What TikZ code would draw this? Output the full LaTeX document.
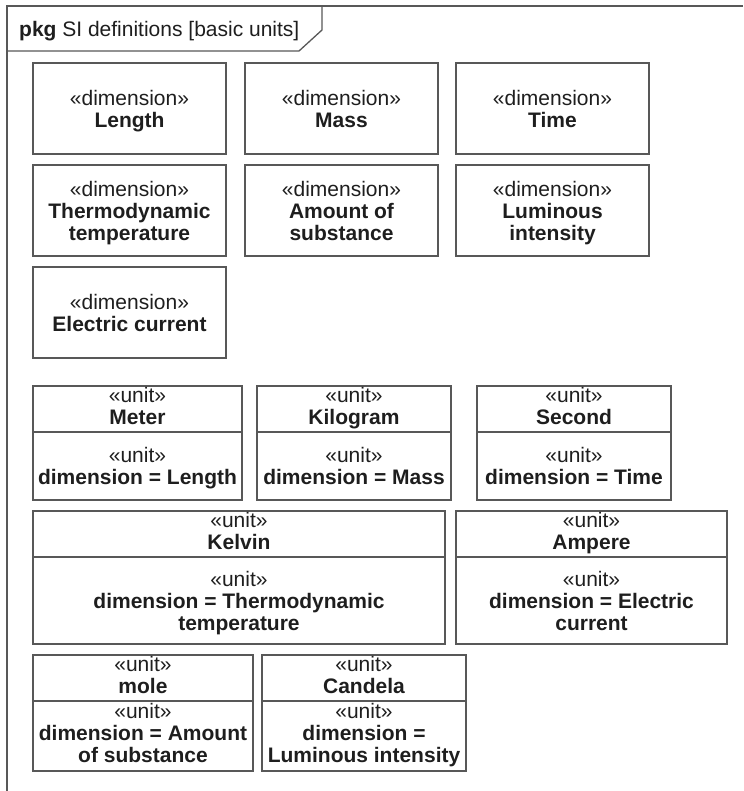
\documentclass[tikz,border=0pt]{standalone}
\usepackage{fontspec}
\setmainfont{Liberation Sans}
\usepackage{tikz}
\usetikzlibrary{positioning}
\definecolor{umlline}{RGB}{88,88,88}
\definecolor{umltext}{RGB}{30,30,30}
\newcommand{\stype}[1]{«#1»}
\newcommand{\bnl}{\\\bfseries}
\newcommand{\lift}{\rule{0pt}{22pt}}
\newcommand{\dimtxt}[1]{\lift\stype{dimension}\bnl #1\strut}
\newcommand{\unitxt}[1]{\stype{unit}\bnl #1\strut}
\newcommand{\unitattr}[1]{\lift\stype{unit}\bnl #1\strut}
\tikzset{
  umlfont/.style={font=\fontsize{21}{22}\selectfont, text=umltext},
  frameln/.style={draw=umlline, line width=1.3pt},
  dimbox/.style={frameln, umlfont, rectangle, inner sep=0pt, outer sep=0pt,
      align=center, anchor=north west, minimum width=193pt, minimum height=91pt},
  headbox/.style={frameln, umlfont, rectangle, inner sep=0pt, outer sep=0pt,
      align=center, anchor=north west, minimum width=#1, minimum height=46pt},
  bodybox/.style={frameln, umlfont, rectangle, inner sep=0pt, outer sep=0pt,
      align=center, minimum width=#1},
}

\begin{document}
\begin{tikzpicture}[x=1pt,y=-1pt]
\useasboundingbox (0,0) rectangle (743,791);
% package frame
\draw[frameln] (7,791) -- (7,6) -- (743,6);
\draw[frameln] (7,51) -- (299,51) -- (322,30) -- (322,6);
\node[umlfont, anchor=base west, inner sep=0pt] (pkgtitle) at (19,37)
  {\textbf{pkg} SI definitions [basic units]};
% dimensions
\node[dimbox] (length)   at (33,63)   {\dimtxt{Length}};
\node[dimbox] (mass)     at (245,63)  {\dimtxt{Mass}};
\node[dimbox] (time)     at (456,63)  {\dimtxt{Time}};
\node[dimbox] (thermo)   at (33,165)  {\dimtxt{Thermodynamic\bnl temperature}};
\node[dimbox] (amount)   at (245,165) {\dimtxt{Amount of\bnl substance}};
\node[dimbox] (luminous) at (456,165) {\dimtxt{Luminous\bnl intensity}};
\node[dimbox] (current)  at (33,267)  {\dimtxt{Electric current}};
% units
\node[headbox=209pt] (meter) at (33,386) {\unitxt{Meter}};
\node[bodybox=209pt, minimum height=68pt, below=0pt of meter] (meterdim)
  {\unitattr{dimension = Length}};
\node[headbox=194pt] (kilogram) at (257,386) {\unitxt{Kilogram}};
\node[bodybox=194pt, minimum height=68pt, below=0pt of kilogram] (kilogramdim)
  {\unitattr{dimension = Mass}};
\node[headbox=194pt] (second) at (477,386) {\unitxt{Second}};
\node[bodybox=194pt, minimum height=68pt, below=0pt of second] (seconddim)
  {\unitattr{dimension = Time}};
\node[headbox=412pt] (kelvin) at (33,511) {\unitxt{Kelvin}};
\node[bodybox=412pt, minimum height=87pt, below=0pt of kelvin] (kelvindim)
  {\unitattr{dimension = Thermodynamic\bnl temperature}};
\node[headbox=271pt] (ampere) at (456,511) {\unitxt{Ampere}};
\node[bodybox=271pt, minimum height=87pt, below=0pt of ampere] (amperedim)
  {\unitattr{dimension = Electric\bnl current}};
\node[headbox=220pt] (mole) at (33,655) {\unitxt{mole}};
\node[bodybox=220pt, minimum height=70pt, below=0pt of mole] (moledim)
  {\unitxt{dimension = Amount\bnl of substance}};
\node[headbox=204pt] (candela) at (262,655) {\unitxt{Candela}};
\node[bodybox=204pt, minimum height=70pt, below=0pt of candela] (candeladim)
  {\unitxt{dimension =\bnl Luminous intensity}};
\end{tikzpicture}
\end{document}
